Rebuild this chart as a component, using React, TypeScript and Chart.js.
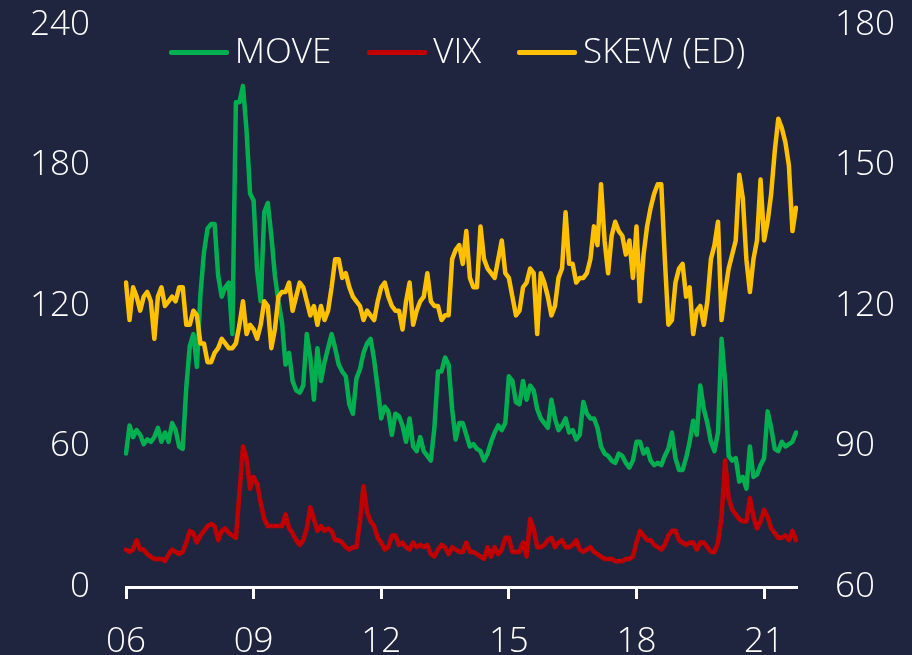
import React, { useEffect, useRef } from 'react';
import { Chart, registerables } from 'chart.js';

Chart.register(...registerables);

// ---- data (monthly, Jan 2006 .. Oct 2021) ----
const START_YEAR = 2006;
const MONTH_COUNT = 190;
const CATEGORIES: string[] = Array.from(
  { length: MONTH_COUNT },
  (_, i) => `${START_YEAR + Math.floor(i / 12)}-${String((i % 12) + 1).padStart(2, '0')}`
);
const X_TICK_LABELS = ['06', '09', '12', '15', '18', '21'];
const X_TICK_EVERY = 36; // months between shown labels

const MOVE: number[] = [
  57, 69, 64, 67, 65, 61, 63, 62, 64, 68, 62, 66, // 2006
  62, 70, 67, 60, 59, 85, 103, 108, 94, 125, 143, 153, // 2007
  155, 155, 133, 124, 128, 130, 108, 207, 207, 214, 195, 168, // 2008
  165, 135, 122, 160, 164, 150, 133, 122, 113, 95, 100, 88, // 2009
  84, 83, 86, 108, 98, 80, 102, 88, 96, 102, 108, 102, // 2010
  95, 92, 90, 78, 74, 89, 93, 100, 104, 106, 97, 85, // 2011
  72, 77, 75, 65, 74, 73, 69, 62, 72, 60, 58, 64, // 2012
  58, 56, 54, 68, 92, 92, 98, 95, 76, 63, 70, 70, // 2013
  65, 60, 61, 59, 58, 54, 57, 62, 66, 69, 67, 70, // 2014
  90, 88, 79, 78, 88, 80, 86, 84, 76, 72, 70, 68, // 2015
  80, 72, 67, 69, 72, 66, 67, 63, 65, 79, 74, 72, // 2016
  72, 68, 60, 57, 56, 54, 53, 57, 56, 53, 51, 54, // 2017
  62, 62, 57, 59, 54, 52, 53, 52, 56, 59, 66, 55, // 2018
  50, 50, 55, 62, 71, 65, 86, 76, 70, 62, 58, 66, // 2019
  106, 88, 56, 54, 55, 45, 47, 42, 60, 47, 48, 52, // 2020
  55, 75, 68, 59, 58, 62, 60, 61, 62, 66, // 2021
];

const VIX: number[] = [
  16, 15, 16, 20, 16, 16, 14, 13, 12, 12, 12, 11, // 2006
  14, 16, 15, 14, 15, 19, 24, 23, 19, 22, 24, 26, // 2007
  27, 26, 20, 24, 25, 23, 22, 21, 40, 60, 55, 42, // 2008
  47, 44, 36, 29, 26, 26, 26, 26, 26, 31, 25, 23, // 2009
  20, 18, 20, 25, 34, 29, 24, 26, 24, 25, 24, 20, // 2010
  20, 19, 17, 16, 17, 17, 28, 43, 32, 28, 26, 21, // 2011
  19, 16, 17, 22, 22, 18, 19, 17, 16, 19, 17, 18, // 2012
  17, 18, 14, 13, 16, 18, 17, 14, 17, 16, 15, 15, // 2013
  19, 15, 15, 14, 13, 12, 17, 13, 17, 14, 16, 21, // 2014
  21, 15, 15, 15, 19, 13, 29, 25, 17, 17, 18, 20, // 2015
  21, 17, 19, 20, 17, 17, 18, 20, 16, 15, 16, 17, // 2016
  15, 14, 13, 12, 12, 12, 11, 11, 11, 12, 12, 13, // 2017
  19, 24, 22, 20, 20, 18, 17, 16, 18, 22, 24, 24, // 2018
  20, 19, 18, 19, 19, 16, 19, 19, 17, 15, 15, 19, // 2019
  30, 54, 38, 33, 31, 29, 28, 28, 38, 30, 25, 28, // 2020
  33, 30, 25, 23, 21, 21, 22, 20, 24, 20, // 2021
];

const SKEW: number[] = [
  125, 117, 124, 122, 119, 122, 123, 121, 113, 122, 124, 120, // 2006
  121, 122, 121, 124, 124, 116, 116, 119, 118, 112, 112, 108, // 2007
  108, 110, 111, 113, 112, 111, 111, 112, 116, 121, 114, 116, // 2008
  115, 113, 116, 121, 120, 111, 115, 122, 123, 123, 125, 119, // 2009
  122, 125, 124, 121, 118, 120, 116, 120, 117, 119, 124, 130, // 2010
  130, 126, 127, 124, 122, 121, 120, 117, 119, 118, 117, 121, // 2011
  124, 125, 122, 120, 119, 119, 115, 121, 125, 116, 119, 121, // 2012
  122, 127, 121, 120, 120, 117, 118, 118, 130, 132, 133, 129, // 2013
  136, 126, 124, 124, 137, 130, 128, 127, 126, 130, 134, 127, // 2014
  126, 122, 118, 119, 124, 125, 128, 127, 114, 127, 125, 122, // 2015
  118, 120, 126, 128, 140, 129, 129, 125, 126, 126, 127, 130, // 2016
  137, 133, 146, 134, 127, 135, 138, 136, 135, 131, 134, 126, // 2017
  137, 121, 131, 137, 141, 144, 146, 146, 130, 116, 117, 125, // 2018
  128, 129, 122, 124, 114, 119, 120, 116, 121, 130, 133, 138, // 2019
  117, 123, 128, 131, 134, 148, 143, 130, 123, 130, 134, 147, // 2020
  134, 138, 144, 153, 160, 158, 155, 150, 136, 141, // 2021
];

const SERIES_NAMES = ['MOVE', 'VIX', 'SKEW (ED)'];

// ---- styles ----
const BG = '#20253f';
const GREEN = '#00b050';
const RED = '#c00000';
const YELLOW = '#ffc000';
const COLORS = [GREEN, RED, YELLOW];
const FONT_FAMILY = "'Open Sans', 'Noto Sans', sans-serif";
const TICK_FONT = { family: FONT_FAMILY, size: 35, weight: '300' as const };

export default function App() {
  const canvasRef = useRef<HTMLCanvasElement | null>(null);

  useEffect(() => {
    document.body.style.margin = '0';
    document.body.style.background = BG;
    const canvas = canvasRef.current;
    if (!canvas) return;
    const chart = new Chart(canvas, {
      type: 'line',
      data: {
        labels: CATEGORIES,
        datasets: [
          { label: SERIES_NAMES[0], data: MOVE, borderColor: GREEN, backgroundColor: GREEN, yAxisID: 'y', order: 3 },
          { label: SERIES_NAMES[1], data: VIX, borderColor: RED, backgroundColor: RED, yAxisID: 'y', order: 2 },
          { label: SERIES_NAMES[2], data: SKEW, borderColor: YELLOW, backgroundColor: YELLOW, yAxisID: 'y1', order: 1 },
        ],
      },
      options: {
        responsive: false,
        animation: false,
        layout: { padding: { top: 25, left: 0, right: 0, bottom: 0 } },
        elements: {
          point: { radius: 0 },
          line: { borderWidth: 4.5, tension: 0, borderJoinStyle: 'round', borderCapStyle: 'round' },
        },
        plugins: {
          legend: { display: false },
          tooltip: { enabled: false },
        },
        scales: {
          x: {
            type: 'category',
            offset: false,
            grid: {
              display: true,
              drawOnChartArea: false,
              drawTicks: true,
              tickLength: 12,
              lineWidth: 3,
              color: (ctx: any) => (ctx.index % X_TICK_EVERY === 0 ? '#ffffff' : 'rgba(0,0,0,0)'),
            },
            border: { display: true, color: '#ffffff', width: 3 },
            ticks: {
              autoSkip: false,
              maxRotation: 0,
              minRotation: 0,
              color: '#ffffff',
              font: TICK_FONT,
              padding: 22,
              callback: (_v: any, i: number) =>
                i % X_TICK_EVERY === 0 ? X_TICK_LABELS[i / X_TICK_EVERY] ?? '' : '',
            },
            afterFit: (s: any) => {
              s.height = 68;
              s.paddingLeft = 0;
              s.paddingRight = 0;
            },
          },
          y: {
            position: 'left',
            min: 0,
            max: 240,
            ticks: { stepSize: 60, color: '#ffffff', font: TICK_FONT, padding: 36 },
            grid: { display: false, drawTicks: false },
            border: { display: false },
            afterFit: (s: any) => {
              s.width = 126;
              s.paddingTop = 0;
              s.paddingBottom = 0;
            },
          },
          y1: {
            position: 'right',
            min: 60,
            max: 180,
            ticks: { stepSize: 30, color: '#ffffff', font: TICK_FONT, padding: 39 },
            grid: { display: false, drawTicks: false },
            border: { display: false },
            afterFit: (s: any) => {
              s.width = 116;
              s.paddingTop = 0;
              s.paddingBottom = 0;
            },
          },
        },
      },
    });
    return () => chart.destroy();
  }, []);

  return (
    <div style={{ position: 'relative', width: 912, height: 655, background: BG, overflow: 'hidden' }}>
      <canvas ref={canvasRef} width={912} height={655} style={{ display: 'block' }} />
      <div
        style={{
          position: 'absolute',
          left: 122,
          width: 670,
          top: 26,
          height: 48,
          display: 'flex',
          justifyContent: 'center',
          alignItems: 'center',
          gap: 36,
          fontFamily: FONT_FAMILY,
          fontWeight: 300,
          fontSize: 35,
          lineHeight: '48px',
          color: '#ffffff',
          whiteSpace: 'nowrap',
        }}
      >
        {SERIES_NAMES.map((name, i) => (
          <div key={name} style={{ display: 'flex', alignItems: 'center', gap: 6 }}>
            <span style={{ display: 'inline-block', width: 60, height: 5, borderRadius: 2, background: COLORS[i], marginTop: 4 }} />
            <span>{name}</span>
          </div>
        ))}
      </div>
    </div>
  );
}
